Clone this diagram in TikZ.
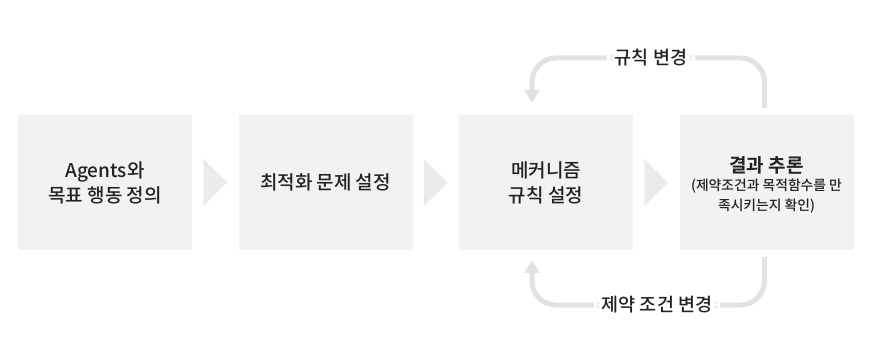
\documentclass[tikz,border=0pt]{standalone}
\usepackage{fontspec}
\setmainfont{Noto Sans CJK KR}[BoldFont={Noto Sans CJK KR Bold}]
\newfontfamily\krmed{Noto Sans CJK KR Medium}
\usetikzlibrary{calc,positioning,arrows.meta}
\definecolor{boxgray}{HTML}{F2F2F2}
\definecolor{trigray}{HTML}{EBEBEB}
\definecolor{loopgray}{HTML}{E2E2E2}
\definecolor{txtdark}{HTML}{222222}
\newcommand{\subline}{\krmed\fontsize{13.8}{19.5}\selectfont}

\begin{document}
\begin{tikzpicture}[x=1pt,y=-1pt,font=\krmed\fontsize{19}{25}\selectfont,text=txtdark,
  stagebox/.style={fill=boxgray,minimum width=174pt,minimum height=135pt,inner sep=0pt,align=center},
  loopline/.style={draw=loopgray,line width=5pt,rounded corners=24pt,-{Triangle[width=15pt,length=13pt]}},
  looplbl/.style={fill=white,inner xsep=8pt,inner ysep=2pt,font=\krmed\fontsize{18.5}{20}\selectfont}]
\useasboundingbox (0,0) rectangle (880,361);
\node[stagebox] (s1) at (105,182.5) {Agents와\\목표 행동 정의};
\node[stagebox] (s2) at (325.5,182.5) {최적화 문제 설정};
\node[stagebox] (s3) at (546,182.5) {메커니즘\\규칙 설정};
\node[stagebox] (s4) at (766.5,182.5) {};
\node[align=center] (s4txt) at ([yshift=-2.5pt]s4.center) {\bfseries\rmfamily\fontsize{19}{25}\selectfont 결과 추론\\[-7pt]\subline (제약조건과 목적함수를 만\\[-5pt]\subline 족시키는지 확인)};
% arrows between stages
\foreach \a/\b in {s1/s2,s2/s3,s3/s4}
  \fill[trigray] ($(\a.east)!0.5!(\b.west)+(-12,-23.5)$) -- ++(24,23.5) -- ++(-24,23.5) -- cycle;
% feedback loops
\draw[loopline] ([xshift=-2pt,yshift=7pt]s4.north) |- (651,58) node[looplbl]{규칙 변경} -| ([xshift=-14pt,yshift=12pt]s3.north);
\draw[loopline] ([xshift=-2pt,yshift=-7pt]s4.south) |- (657,305) node[looplbl]{제약 조건 변경} -| ([xshift=-14pt,yshift=-10pt]s3.south);
\end{tikzpicture}
\end{document}
